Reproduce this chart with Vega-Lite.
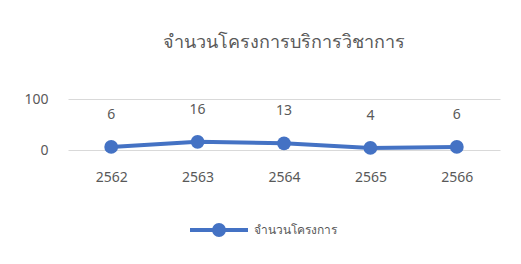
{
  "$schema": "https://vega.github.io/schema/vega-lite/v6.json",
  "autosize": {"type": "none"},
  "width": 432,
  "height": 51,
  "padding": {"left": 68, "top": 99, "right": 21, "bottom": 114},
  "background": "white",
  "title": {
    "text": "จำนวนโครงการบริการวิชาการ",
    "anchor": "middle",
    "fontSize": 18,
    "fontWeight": "normal",
    "color": "#595959",
    "font": "Noto Sans",
    "offset": 40
  },
  "data": {
    "values": [
      {"year": "2562", "value": 6, "series": "จำนวนโครงการ"},
      {"year": "2563", "value": 16, "series": "จำนวนโครงการ"},
      {"year": "2564", "value": 13, "series": "จำนวนโครงการ"},
      {"year": "2565", "value": 4, "series": "จำนวนโครงการ"},
      {"year": "2566", "value": 6, "series": "จำนวนโครงการ"}
    ]
  },
  "encoding": {
    "x": {
      "field": "year", "type": "ordinal", "title": null,
      "scale": {"paddingInner": 0, "paddingOuter": 0},
      "axis": {"labelAngle": 0, "domain": false, "ticks": false, "labelPadding": 20, "labelFontSize": 14, "labelColor": "#595959", "labelFont": "Noto Sans", "grid": false}
    },
    "y": {
      "field": "value", "type": "quantitative", "title": null,
      "scale": {"domain": [0, 100], "nice": false},
      "axis": {"values": [0, 100], "domain": false, "ticks": false, "labelPadding": 20, "labelFontSize": 14, "labelColor": "#595959", "labelFont": "Noto Sans", "gridColor": "#d9d9d9", "gridWidth": 1}
    }
  },
  "layer": [
    {
      "mark": {"type": "line", "strokeWidth": 4, "point": {"filled": true, "size": 190}},
      "encoding": {
        "color": {
          "field": "series", "type": "nominal",
          "scale": {"range": ["#4472C4"]},
          "legend": {
            "title": null, "orient": "none", "legendX": 120, "legendY": 100,
            "symbolType": "M -1 0 L 1 0 M 0.17 0 A 0.17 0.17 0 1 1 -0.17 0 A 0.17 0.17 0 1 1 0.17 0 Z",
            "symbolSize": 3364, "symbolStrokeWidth": 4, "symbolFillColor": "#4472C4", "symbolStrokeColor": "#4472C4",
            "labelFontSize": 12, "labelColor": "#595959", "labelFont": "Noto Sans", "labelOffset": 4
          }
        }
      }
    },
    {
      "mark": {"type": "text", "dy": -32, "fontSize": 14, "color": "#595959", "font": "Noto Sans"},
      "encoding": {"text": {"field": "value", "type": "quantitative"}}
    }
  ],
  "config": {"view": {"stroke": null}}
}
